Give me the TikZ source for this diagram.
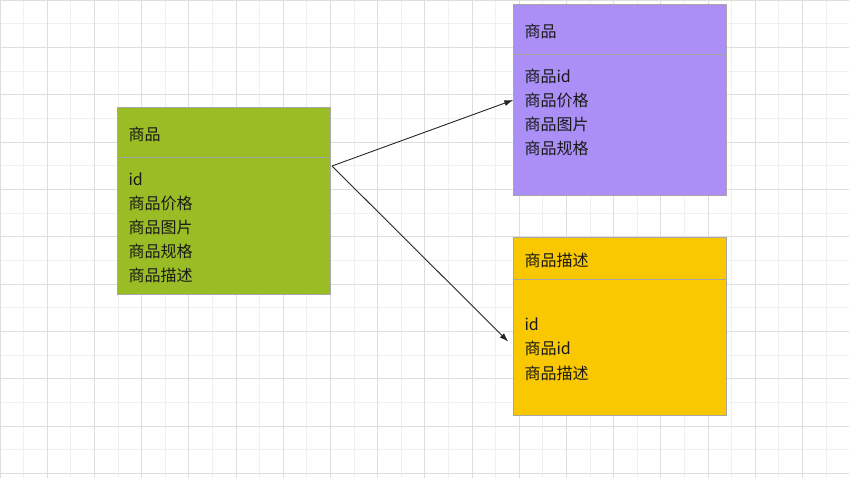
\documentclass[tikz,border=0pt]{standalone}
\usepackage{fontspec}
\setmainfont{Noto Sans CJK SC}
\usetikzlibrary{arrows.meta,calc}

\definecolor{gridminor}{HTML}{F0F0F0}
\definecolor{gridmajor}{HTML}{DEDEDE}
\definecolor{goodsgreen}{HTML}{9ABD26}
\definecolor{goodspurple}{HTML}{AB8FF7}
\definecolor{descyellow}{HTML}{F9C800}
\definecolor{boxborder}{HTML}{A6A6A6}

\begin{document}
\begin{tikzpicture}[>={Latex[length=9pt,width=6pt]}, x=1pt, y=-1pt]
			\tikzstyle{table}=[draw=boxborder, line width=1pt, rectangle, inner sep=0pt, anchor=north west, minimum width=213pt]
			\tikzstyle{divider}=[draw=boxborder, line width=0.8pt]
			\tikzstyle{field}=[anchor=base west, inner sep=0pt, text=black!90, font=\fontsize{16}{24}\selectfont]
			\tikzstyle{link}=[->, line width=0.9pt, draw=black!85]

			\useasboundingbox (0,0) rectangle (849,478);

			% background grid
			\foreach \i in {0,...,36} \draw [gridminor, line width=1pt] (\i*23.6,0) -- (\i*23.6,478);
			\foreach \j in {0,...,20} \draw [gridminor, line width=1pt] (0,0.3+\j*23.65) -- (849,0.3+\j*23.65);
			\foreach \i in {0,...,18} \draw [gridmajor, line width=1pt] (\i*47.2,0) -- (\i*47.2,478);
			\foreach \j in {0,...,10} \draw [gridmajor, line width=1pt] (0,0.3+\j*47.3) -- (849,0.3+\j*47.3);

			% source table
			\node (green) [table, fill=goodsgreen, minimum width=212.7pt, minimum height=187.2pt] at (117.3,107.3) {};
			\draw [divider] ($(green.north west)+(0,50)$) -- ($(green.north east)+(0,50)$);
			\node (gtitle) [field] at ($(green.north west)+(11,33.5)$) {商品};
			\foreach \t [count=\i] in {id,商品价格,商品图片,商品规格,商品描述}
				\node (gf\i) [field] at ($(green.north west)+(11,54+24*\i)$) {\t};

			% split table: goods
			\node (purple) [table, fill=goodspurple, minimum height=190.7pt] at (513.3,4.3) {};
			\draw [divider] ($(purple.north west)+(0,49.7)$) -- ($(purple.north east)+(0,49.7)$);
			\node (ptitle) [field] at ($(purple.north west)+(11,33)$) {商品};
			\foreach \t [count=\i] in {商品id,商品价格,商品图片,商品规格}
				\node (pf\i) [field] at ($(purple.north west)+(11,54.7+24*\i)$) {\t};

			% split table: description
			\node (yellow) [table, fill=descyellow, minimum height=177.7pt] at (513.3,237.3) {};
			\draw [divider] ($(yellow.north west)+(0,42)$) -- ($(yellow.north east)+(0,42)$);
			\node (ytitle) [field] at ($(yellow.north west)+(11,29)$) {商品描述};
			\foreach \t [count=\i] in {id,商品id,商品描述}
				\node (yf\i) [field] at ($(yellow.north west)+(11,68.3+24.5*\i)$) {\t};

			% links
			\coordinate (split) at ($(green.north east)+(1,58.7)$);
			\coordinate (descend) at ($(yellow.north west)+(-5,104.4)$);
			\draw [link] (split) -- ($(purple.north west)+(0,95.7)$);
			\draw [link] (split) -- (descend);
\end{tikzpicture}
\end{document}
